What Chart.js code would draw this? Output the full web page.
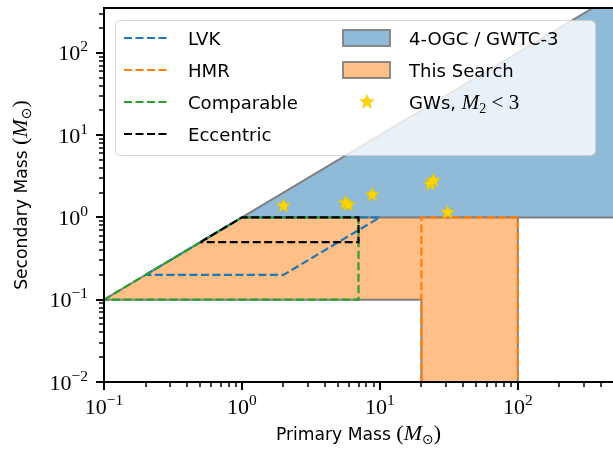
<!DOCTYPE html>
<html>
<head>
<meta charset="utf-8">
<script src="https://cdn.jsdelivr.net/npm/chart.js@4.4.1/dist/chart.umd.min.js"></script>
<style>
  html, body { margin: 0; padding: 0; background: #fff; }
  #wrap { width: 613px; height: 452px; }
</style>
</head>
<body>
<div id="wrap"><canvas id="massPlane" width="613" height="452"></canvas></div>
<script>
// Region outlines in the (primary, secondary) mass plane, solar masses
const ogcX = [1, 500, 500, 1];
const ogcY = [1, 500, 1, 1];
const searchX = [0.1, 1, 100, 100, 20, 20, 0.1];
const searchY = [0.1, 1, 1, 0.01, 0.01, 0.1, 0.1];
const lvkX = [0.2, 1, 10, 2, 0.2];
const lvkY = [0.2, 1, 1, 0.2, 0.2];
const hmrX = [20, 20, 100, 100, 20];
const hmrY = [0.01, 1, 1, 0.01, 0.01];
const compX = [0.1, 1, 7, 7, 0.1];
const compY = [0.1, 1, 1, 0.1, 0.1];
const eccX = [0.5, 1, 7, 7, 0.5];
const eccY = [0.5, 1, 1, 0.5, 0.5];
// detected events with M2 < 3
const gwM1 = [2.0, 5.6, 5.9, 8.8, 23.2, 24.5, 31];
const gwM2 = [1.38, 1.5, 1.42, 1.88, 2.55, 2.8, 1.15];
// decade ticks
const xTicks = [0.1, 1, 10, 100];
const yTicks = [0.01, 0.1, 1, 10, 100];

const SANS = '"DejaVu Sans", sans-serif';
const SERIF = '"Liberation Serif", "DejaVu Serif", serif';
const BLUE_FILL = '#8fbbd9';
const ORANGE_FILL = '#ffbf86';
const EDGE = '#808080';
const DASH = [8, 3.5];

const pts = (xs, ys) => xs.map((x, i) => ({ x, y: ys[i] }));

// filled five-point star used as the point style
function makeStar(r) {
  const c = document.createElement('canvas');
  const s = Math.ceil(r * 2 + 4);
  c.width = s; c.height = s;
  const g = c.getContext('2d');
  g.beginPath();
  for (let i = 0; i < 10; i++) {
    const rad = i % 2 === 0 ? r : r * 0.42;
    const a = -Math.PI / 2 + i * Math.PI / 5;
    g.lineTo(s / 2 + rad * Math.cos(a), s / 2 + rad * Math.sin(a));
  }
  g.closePath();
  g.fillStyle = '#ffd700';
  g.fill();
  g.strokeStyle = '#e8c400';
  g.lineWidth = 0.8;
  g.stroke();
  return c;
}
const star = makeStar(7.2);

function drawRuns(ctx, runs, x, y, align) {
  let total = 0;
  runs.forEach(r => { ctx.font = r.f; r.w = ctx.measureText(r.t).width; total += r.w; });
  let cx = align === 'center' ? x - total / 2 : align === 'right' ? x - total : x;
  ctx.textAlign = 'left';
  ctx.textBaseline = 'alphabetic';
  runs.forEach(r => {
    ctx.font = r.f;
    ctx.fillText(r.t, cx, y + (r.dy || 0));
    cx += r.w;
  });
}

function fitSize(ctx, text, family, target) {
  ctx.font = '100px ' + family;
  return 100 * target / ctx.measureText(text).width;
}

function powLabel(v) {
  const e = Math.round(Math.log10(v));
  return [
    { t: '10', f: '22px ' + SERIF },
    { t: e < 0 ? '\u2212' + (-e) : String(e), f: '15.5px ' + SERIF, dy: -9 }
  ];
}

function minorTicks(min, max) {
  const out = [];
  for (let e = -3; e <= 3; e++) {
    for (let k = 2; k <= 9; k++) {
      const v = k * Math.pow(10, e);
      if (v > min && v < max) out.push(v);
    }
  }
  return out;
}

const framePlugin = {
  id: 'frame',
  afterDraw(chart) {
    const { ctx, chartArea: a, scales: { x, y } } = chart;
    ctx.save();
    ctx.strokeStyle = '#000';
    ctx.fillStyle = '#000';

    // ticks
    const tick = (px, py, dx, dy, w) => {
      ctx.lineWidth = w;
      ctx.beginPath(); ctx.moveTo(px, py); ctx.lineTo(px + dx, py + dy); ctx.stroke();
    };
    xTicks.forEach(v => tick(Math.round(x.getPixelForValue(v)), a.bottom, 0, 8, 2));
    yTicks.forEach(v => tick(a.left, Math.round(y.getPixelForValue(v)), -8, 0, 2));
    minorTicks(x.min, x.max).forEach(v => tick(Math.round(x.getPixelForValue(v)), a.bottom, 0, 5, 1.5));
    minorTicks(y.min, y.max).forEach(v => tick(a.left, Math.round(y.getPixelForValue(v)), -5, 0, 1.5));

    // spines
    ctx.lineWidth = 2;
    ctx.strokeRect(a.left, a.top, a.right - a.left + 4, a.bottom - a.top);

    // tick labels
    xTicks.forEach(v => drawRuns(ctx, powLabel(v), x.getPixelForValue(v), a.bottom + 32, 'center'));
    yTicks.forEach(v => drawRuns(ctx, powLabel(v), a.left - 16, y.getPixelForValue(v) + 7.5, 'right'));

    // axis titles
    const tSize = fitSize(ctx, 'Primary Mass', SANS, 115);
    const title = word => [
      { t: word + ' ', f: tSize + 'px ' + SANS },
      { t: '(', f: '22px ' + SERIF },
      { t: 'M', f: 'italic 22px ' + SERIF },
      { t: '\u2299', f: '14px "DejaVu Sans"', dy: 4 },
      { t: ')', f: '22px ' + SERIF }
    ];
    drawRuns(ctx, title('Primary Mass'), (a.left + a.right) / 2, 440, 'center');
    ctx.save();
    ctx.translate(27, (a.top + a.bottom) / 2);
    ctx.rotate(-Math.PI / 2);
    drawRuns(ctx, title('Secondary Mass'), 0, 0, 'center');
    ctx.restore();

    // legend
    ctx.beginPath();
    ctx.roundRect(115.5, 20.5, 480, 135, 5);
    ctx.fillStyle = 'rgba(255,255,255,0.8)';
    ctx.fill();
    ctx.lineWidth = 1;
    ctx.strokeStyle = 'rgba(204,204,204,0.8)';
    ctx.stroke();

    const lSize = fitSize(ctx, 'Comparable', SANS, 110);
    const lFont = lSize + 'px ' + SANS;
    const rows = [38, 70, 102, 134];
    const lines = chart.data.datasets.filter(d => d.legendCol === 'left');
    lines.forEach((d, i) => {
      ctx.strokeStyle = d.borderColor;
      ctx.lineWidth = 2.2;
      ctx.setLineDash(DASH);
      ctx.beginPath(); ctx.moveTo(124, rows[i]); ctx.lineTo(168, rows[i]); ctx.stroke();
      ctx.setLineDash([]);
      ctx.fillStyle = '#000';
      drawRuns(ctx, [{ t: d.label, f: lFont }], 188, rows[i] + 6.5, 'left');
    });
    const patches = chart.data.datasets.filter(d => d.legendCol === 'right');
    patches.forEach((d, i) => {
      ctx.fillStyle = d.backgroundColor;
      ctx.fillRect(343, rows[i] - 8, 47, 16);
      ctx.strokeStyle = EDGE;
      ctx.lineWidth = 1.8;
      ctx.strokeRect(343, rows[i] - 8, 47, 16);
      ctx.fillStyle = '#000';
      drawRuns(ctx, [{ t: d.label, f: lFont }], 409, rows[i] + 6.5, 'left');
    });
    ctx.drawImage(star, 367 - star.width / 2, rows[2] - star.height / 2);
    ctx.fillStyle = '#000';
    drawRuns(ctx, [
      { t: 'GWs, ', f: lFont },
      { t: 'M', f: 'italic 21px ' + SERIF },
      { t: '2', f: '14px ' + SERIF, dy: 4 },
      { t: ' < 3', f: '21px ' + SERIF }
    ], 409, rows[2] + 6.5, 'left');

    ctx.restore();
  }
};

const regionLine = (label, xs, ys, color, order) => ({
  label, data: pts(xs, ys), showLine: true, pointRadius: 0,
  borderColor: color, borderWidth: 2.2, borderDash: DASH, fill: false,
  order, legendCol: 'left'
});

new Chart(document.getElementById('massPlane'), {
  type: 'scatter',
  data: {
    datasets: [
      {
        label: 'GWs, M2 < 3', data: pts(gwM1, gwM2), pointStyle: star,
        pointRadius: 7, order: 0
      },
      regionLine('LVK', lvkX, lvkY, '#1f77b4', 4),
      regionLine('HMR', hmrX, hmrY, '#ff7f0e', 3),
      regionLine('Comparable', compX, compY, '#2ca02c', 2),
      regionLine('Eccentric', eccX, eccY, '#000000', 1),
      {
        label: '4-OGC / GWTC-3', data: pts(ogcX, ogcY), showLine: true, pointRadius: 0,
        borderColor: EDGE, borderWidth: 2, backgroundColor: BLUE_FILL, fill: 'shape',
        order: 6, legendCol: 'right'
      },
      {
        label: 'This Search', data: pts(searchX, searchY), showLine: true, pointRadius: 0,
        borderColor: EDGE, borderWidth: 2, backgroundColor: ORANGE_FILL, fill: 'shape',
        order: 5, legendCol: 'right'
      }
    ]
  },
  options: {
    animation: false,
    responsive: false,
    layout: { autoPadding: false, padding: { top: 8, right: 0, left: 0, bottom: 0 } },
    plugins: { legend: { display: false }, tooltip: { enabled: false } },
    scales: {
      x: {
        type: 'logarithmic', min: 0.1, max: 490,
        grid: { display: false }, border: { display: false }, ticks: { display: false },
        afterFit: s => { s.height = 70; }
      },
      y: {
        type: 'logarithmic', min: 0.01, max: 350,
        grid: { display: false }, border: { display: false }, ticks: { display: false },
        afterFit: s => { s.width = 104; }
      }
    }
  },
  plugins: [framePlugin]
});
</script>
</body>
</html>
